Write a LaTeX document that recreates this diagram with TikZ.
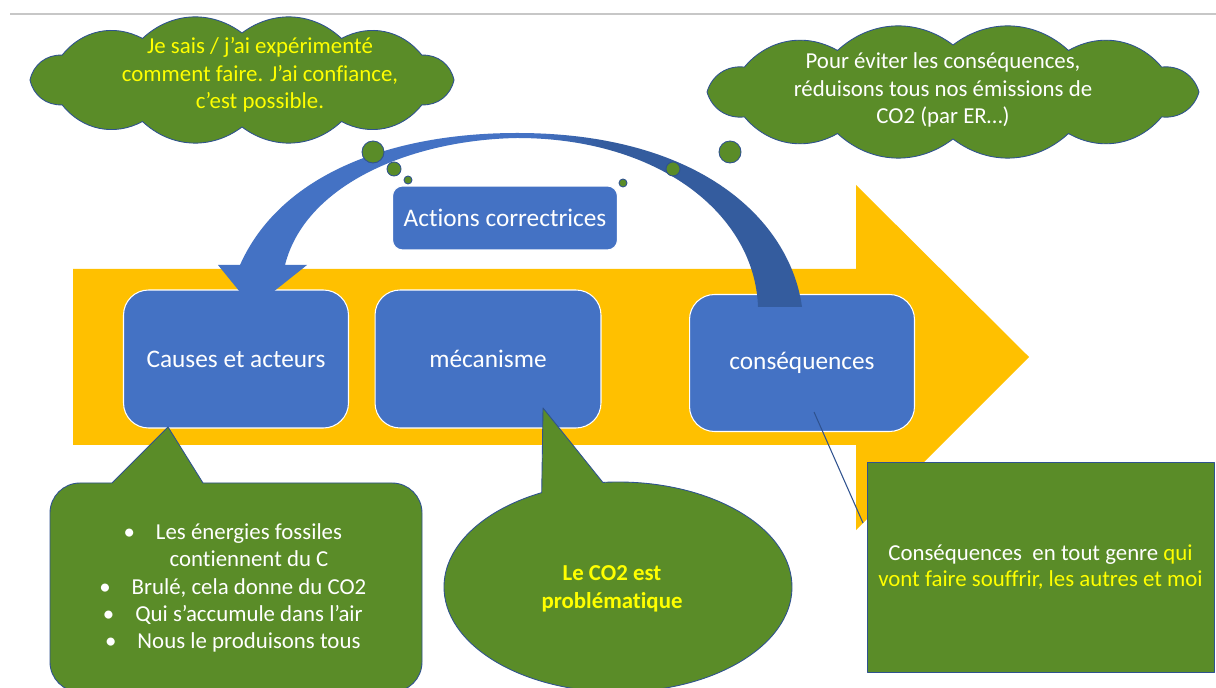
\documentclass[tikz,border=0pt]{standalone}
\usepackage{fontspec}
\setmainfont{Carlito}[Ligatures=NoCommon]
\usepackage{xcolor}

\definecolor{slideyellow}{RGB}{255,192,0}
\definecolor{boxblue}{RGB}{68,114,196}
\definecolor{arcblue}{RGB}{52,92,158}
\definecolor{leafgreen}{RGB}{90,140,40}
\definecolor{edgeblue}{RGB}{47,82,143}
\definecolor{texyellow}{RGB}{255,255,0}

\pgfdeclarehorizontalshading{arcshading}{100bp}{color(0bp)=(boxblue); color(52bp)=(boxblue); color(58bp)=(arcblue); color(100bp)=(arcblue)}

\newcommand{\puce}{\llap{\textbullet\hspace{0.42cm}}}

\begin{document}
\begin{tikzpicture}[x=0.02cm, y=-0.02cm, every node/.style={font=\fontsize{13}{15.6}\selectfont}]
  \tikzstyle{bluebox} = [rectangle, draw=white, line width=0.6pt, fill=boxblue, text=white, rounded corners=0.5cm, minimum width=4.5cm, minimum height=2.76cm, font=\fontsize{14.4}{17}\selectfont]
  \tikzstyle{greenshape} = [draw=edgeblue, line width=0.5pt, fill=leafgreen, line join=round]
  \tikzstyle{bubbledot} = [greenshape, circle, inner sep=0pt]

  \useasboundingbox (0,0) rectangle (1216,688);
  \clip (0,0) rectangle (1216,688);
  \fill[white] (0,0) rectangle (1216,688);
  \draw[black!22, line width=0.6pt] (10,14) -- (1216,14);

  % Big yellow arrow
  \fill[slideyellow] (73,269) -- (856,269) -- (856,185) -- (1029,357) -- (856,530) -- (856,445) -- (73,445) -- cycle;

  % Blue boxes
  \node[bluebox] (causes) at (236,359) {Causes et acteurs};
  \node[bluebox, minimum width=4.52cm] (mecanisme) at (488,359) {mécanisme};
  \node[bluebox, minimum height=2.74cm] (consequences) at (802,363) {conséquences};
  \node[bluebox, rounded corners=0.2cm, minimum height=1.28cm] (actions) at (505,218) {Actions correctrices};

  % Curved arrow
  \shade[shading=arcshading] (802,307) .. controls (790,220) and (700,133) .. (517,133)
    .. controls (390,133) and (280,175) .. (240,265)
    -- (218,265) -- (253,308) -- (307,265) -- (285,265)
    .. controls (305,185) and (410,140) .. (517,138)
    .. controls (660,138) and (755,215) .. (758,307) -- cycle;

  % Thought clouds
  \draw[greenshape] (454,80) \foreach \a in {32,62,90,118,148,180,212,242,270,298,328,360} { to[bend left=40] ({242+212*cos(\a)},{80+47*sin(\a)}) } -- cycle;
  \draw[greenshape] (1199,92) \foreach \a in {32,62,90,118,148,180,212,242,270,298,328,360} { to[bend left=40] ({953+246*cos(\a)},{92+47*sin(\a)}) } -- cycle;
  \node[text=texyellow, align=center] (cloudLtext) at (260,75) {Je sais / j’ai expérimenté\\comment faire. J’ai confiance,\\c’est possible.};
  \node[text=white, align=center] (cloudRtext) at (943,90) {Pour éviter les conséquences,\\réduisons tous nos émissions de\\CO2 (par ER…)};
  \node[bubbledot, minimum size=0.44cm] (dotL1) at (373,152) {};
  \node[bubbledot, minimum size=0.28cm] (dotL2) at (394,169) {};
  \node[bubbledot, minimum size=0.16cm] (dotL3) at (408,180) {};
  \node[bubbledot, minimum size=0.44cm] (dotR1) at (730,152) {};
  \node[bubbledot, minimum size=0.28cm] (dotR2) at (673,169) {};
  \node[bubbledot, minimum size=0.16cm] (dotR3) at (623,183) {};

  % Callouts
  \draw[greenshape] (300,483) [rounded corners=0.6cm] -- (422,483) -- (422,692) -- (50,692) -- (50,483) [sharp corners] -- (112,483) -- (168,427) -- (203,483) -- cycle;
  \node[text=white, align=center, font=\fontsize{13}{15.5}\selectfont] (causesnote) at (249,588) {\puce Les énergies fossiles\\contiennent du C\\\puce Brulé, cela donne du CO2\\\puce Qui s’accumule dans l’air\\\puce Nous le produisons tous};

  \draw[greenshape] (602.83,482.4) arc[start angle=265, end angle=604, x radius=174, y radius=105] -- (543,408) -- cycle;
  \node[text=texyellow, align=center, font=\fontsize{13}{16}\selectfont\bfseries] (mecanote) at (612,589) {Le CO2 est\\problématique};

  \coordinate (pinA) at (814,412);
  \coordinate (pinB) at (863,523);
  \draw[edgeblue, line width=0.6pt] (pinA) -- (pinB);
  \node[greenshape, rectangle, minimum width=6.94cm, minimum height=4.2cm, text=white, align=center, font=\fontsize{13}{14.4}\selectfont] (consnote) at (1040.5,567) {Conséquences\ \ en tout genre \textcolor{texyellow}{qui}\\\textcolor{texyellow}{vont faire souffrir, les autres et moi}};
\end{tikzpicture}
\end{document}
